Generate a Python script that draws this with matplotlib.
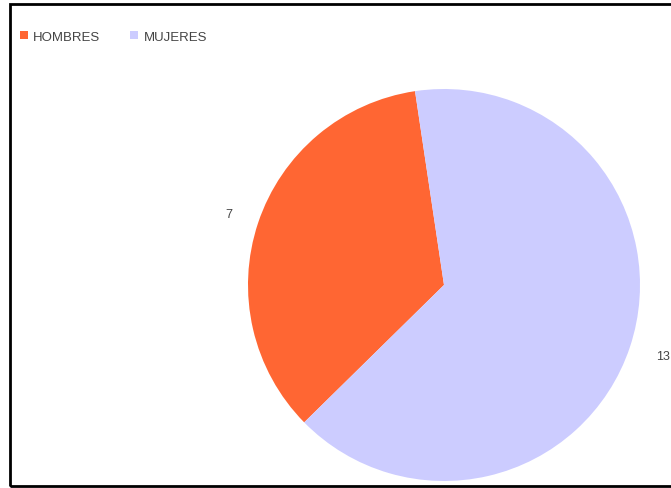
import matplotlib.pyplot as plt
from matplotlib.patches import Rectangle

plt.rcParams['font.family'] = ['Liberation Sans', 'DejaVu Sans']

# data
labels = ['HOMBRES', 'MUJERES']
values = [7, 13]
colors = ['#FF6633', '#CCCCFF']

W, H = 671, 489
fig = plt.figure(figsize=(W / 100, H / 100), dpi=100)

# pie centre and radius in pixels
cx, cy, r = 444, 286, 196
ax = fig.add_axes([(cx - r) / W, (H - cy - r) / H, 2 * r / W, 2 * r / H])

wedges, texts = ax.pie(values, colors=colors, startangle=98.5,
                       labels=[str(v) for v in values], labeldistance=1.14,
                       textprops={'fontsize': 9, 'color': '#444444'},
                       wedgeprops={'linewidth': 0})
for t in texts:
    t.set_clip_on(False)
ax.set_xlim(-1, 1)
ax.set_ylim(-1, 1)
ax.set_aspect('equal')
ax.axis('off')

fig.legend(wedges, labels, loc='upper left', bbox_to_anchor=(13 / W, 1 - 25 / H),
           ncol=2, frameon=False, fontsize=9.5, handlelength=0.6, handleheight=0.6,
           handletextpad=0.4, columnspacing=2.3, labelcolor='#444444', borderpad=0)

# outer frame of the screenshot
fig.patches.append(Rectangle((10 / W, 2 / H), 1.0, 1 - 7 / H, transform=fig.transFigure,
                             fill=False, edgecolor='black', linewidth=2))

fig.savefig('out.png', dpi=100)
